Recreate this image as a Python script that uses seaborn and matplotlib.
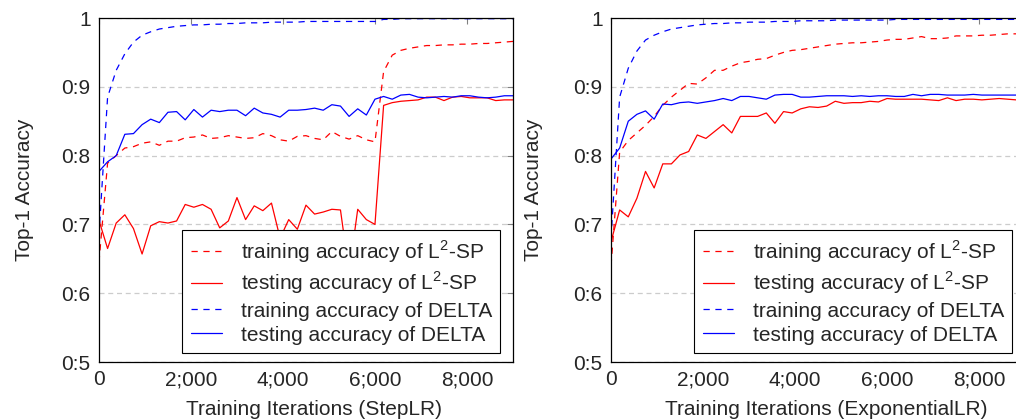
import matplotlib
matplotlib.use("Agg")
import matplotlib.pyplot as plt
import seaborn as sns
import numpy as np

# logging steps (every 187.5 iterations, 0..9000)
iters = np.arange(0, 9001, 187.5)

# ---- StepLR panel ----
step_train_l2 = [0.645, 0.789, 0.800, 0.811, 0.813, 0.818, 0.820, 0.815, 0.821, 0.821,
                 0.826, 0.827, 0.830, 0.825, 0.826, 0.829, 0.827, 0.825, 0.826, 0.832,
                 0.829, 0.823, 0.821, 0.828, 0.829, 0.825, 0.823, 0.835, 0.828, 0.824,
                 0.829, 0.823, 0.820, 0.922, 0.946, 0.953, 0.956, 0.958, 0.960, 0.960,
                 0.961, 0.961, 0.962, 0.962, 0.963, 0.963, 0.964, 0.965, 0.966]
step_test_l2 = [0.706, 0.665, 0.702, 0.714, 0.694, 0.657, 0.698, 0.704, 0.702, 0.705,
                0.729, 0.725, 0.729, 0.722, 0.695, 0.705, 0.739, 0.707, 0.727, 0.720,
                0.731, 0.680, 0.707, 0.693, 0.728, 0.715, 0.718, 0.722, 0.721, 0.630,
                0.722, 0.707, 0.700, 0.873, 0.877, 0.879, 0.880, 0.881, 0.885, 0.885,
                0.880, 0.885, 0.886, 0.884, 0.884, 0.884, 0.880, 0.881, 0.881]
step_train_delta = [0.685, 0.885, 0.924, 0.948, 0.965, 0.975, 0.980, 0.984, 0.986, 0.988,
                    0.989, 0.990, 0.990, 0.991, 0.991, 0.992, 0.992, 0.993, 0.993, 0.993,
                    0.994, 0.994, 0.994, 0.994, 0.995, 0.995, 0.995, 0.995, 0.995, 0.995,
                    0.995, 0.995, 0.995, 0.998, 0.998, 0.999, 0.999, 0.999, 0.999, 0.999,
                    0.999, 0.999, 0.999, 0.999, 0.999, 0.999, 0.999, 0.999, 0.999]
step_test_delta = [0.777, 0.791, 0.800, 0.831, 0.832, 0.845, 0.853, 0.848, 0.863, 0.864,
                   0.852, 0.867, 0.856, 0.866, 0.864, 0.866, 0.866, 0.858, 0.869, 0.862,
                   0.860, 0.856, 0.866, 0.866, 0.867, 0.869, 0.866, 0.874, 0.872, 0.857,
                   0.868, 0.859, 0.882, 0.886, 0.882, 0.888, 0.889, 0.885, 0.884, 0.885,
                   0.886, 0.885, 0.887, 0.887, 0.885, 0.884, 0.885, 0.887, 0.887]

# ---- ExponentialLR panel ----
exp_train_l2 = [0.640, 0.805, 0.822, 0.833, 0.844, 0.857, 0.873, 0.885, 0.895, 0.905,
                0.904, 0.913, 0.924, 0.924, 0.930, 0.935, 0.937, 0.940, 0.941, 0.946,
                0.950, 0.953, 0.954, 0.956, 0.958, 0.960, 0.962, 0.963, 0.964, 0.964,
                0.965, 0.966, 0.968, 0.969, 0.969, 0.971, 0.973, 0.970, 0.970, 0.971,
                0.974, 0.974, 0.974, 0.975, 0.975, 0.976, 0.977, 0.977, 0.977]
exp_test_l2 = [0.675, 0.721, 0.711, 0.738, 0.777, 0.753, 0.788, 0.788, 0.801, 0.806,
               0.830, 0.825, 0.835, 0.845, 0.833, 0.857, 0.857, 0.857, 0.862, 0.847,
               0.864, 0.862, 0.868, 0.871, 0.870, 0.872, 0.879, 0.876, 0.877, 0.877,
               0.879, 0.878, 0.883, 0.882, 0.882, 0.882, 0.882, 0.881, 0.880, 0.884,
               0.880, 0.882, 0.882, 0.881, 0.882, 0.883, 0.882, 0.881, 0.880]
exp_train_delta = [0.680, 0.885, 0.927, 0.952, 0.968, 0.975, 0.980, 0.984, 0.986, 0.988,
                   0.990, 0.991, 0.992, 0.992, 0.993, 0.993, 0.994, 0.994, 0.994, 0.995,
                   0.995, 0.995, 0.996, 0.996, 0.996, 0.996, 0.997, 0.997, 0.997, 0.997,
                   0.997, 0.997, 0.997, 0.998, 0.998, 0.998, 0.998, 0.998, 0.998, 0.998,
                   0.998, 0.998, 0.998, 0.998, 0.998, 0.998, 0.998, 0.998, 0.998]
exp_test_delta = [0.795, 0.811, 0.850, 0.860, 0.865, 0.853, 0.875, 0.874, 0.877, 0.878,
                  0.876, 0.878, 0.880, 0.883, 0.880, 0.886, 0.886, 0.884, 0.882, 0.888,
                  0.889, 0.889, 0.885, 0.885, 0.886, 0.887, 0.887, 0.887, 0.886, 0.887,
                  0.886, 0.887, 0.887, 0.886, 0.886, 0.889, 0.887, 0.889, 0.889, 0.888,
                  0.888, 0.888, 0.889, 0.888, 0.888, 0.888, 0.888, 0.888, 0.888]

labels = [r"training accuracy of L$^{\mathrm{2}}$-SP", r"testing accuracy of L$^{\mathrm{2}}$-SP",
          "training accuracy of DELTA", "testing accuracy of DELTA"]
y_ticks = [0.5, 0.6, 0.7, 0.8, 0.9, 1.0]
y_ticklabels = ["0:5", "0:6", "0:7", "0:8", "0:9", "1"]
x_ticks = [0, 2000, 4000, 6000, 8000]
x_ticklabels = ["0", "2;000", "4;000", "6;000", "8;000"]

sns.set_style("white")
plt.rcParams['font.family'] = ['Liberation Sans', 'DejaVu Sans']
plt.rcParams['mathtext.fontset'] = 'custom'
plt.rcParams['mathtext.rm'] = 'Liberation Sans'

FS = 15
DASH = (0, (5, 4.5))


def panel(ax, series, xlabel, ylab_x):
    styles = [("red", DASH), ("red", "-"), ("blue", DASH), ("blue", "-")]
    for vals, lab, (c, ls) in zip(series, labels, styles):
        sns.lineplot(x=iters, y=vals, ax=ax, color=c, linestyle=ls, lw=0.9, label=lab)
    ax.set_xlim(0, 9000)
    ax.set_ylim(0.5, 1.0)
    ax.set_xticks(x_ticks)
    ax.set_xticklabels(x_ticklabels)
    ax.set_yticks(y_ticks)
    ax.set_yticklabels(y_ticklabels)
    ax.yaxis.grid(True, linestyle=(0, (4, 3)), color='#cccccc', lw=0.9)
    ax.xaxis.grid(False)
    ax.tick_params(direction='in', top=True, right=True, length=4, width=0.8,
                   color='#808080', labelsize=FS, pad=6)
    for s in ax.spines.values():
        s.set_color('black')
        s.set_linewidth(0.9)
    ax.set_xlabel(xlabel, fontsize=FS)
    ax.set_ylabel("Top-1 Accuracy", fontsize=FS)
    ax.xaxis.set_label_coords(0.52, -0.11)
    ax.yaxis.set_label_coords(ylab_x, 0.5)
    leg = ax.legend(loc='lower right', bbox_to_anchor=(0.969, 0.026), borderaxespad=0,
                    fontsize=FS, frameon=True, fancybox=False, edgecolor='black',
                    framealpha=1, handlelength=1.5, labelspacing=0.25,
                    borderpad=0.4, handletextpad=0.9)
    leg.get_frame().set_linewidth(0.8)


fig = plt.figure(figsize=(10.16, 4.19), dpi=100)
ax1 = fig.add_axes([0.0974, 0.136, 0.4075, 0.821])
ax2 = fig.add_axes([0.6014, 0.136, 0.4075, 0.821])

panel(ax1, [step_train_l2, step_test_l2, step_train_delta, step_test_delta],
      "Training Iterations (StepLR)", -0.157)
panel(ax2, [exp_train_l2, exp_test_l2, exp_train_delta, exp_test_delta],
      "Training Iterations (ExponentialLR)", -0.164)

fig.savefig("out.png", dpi=100)
